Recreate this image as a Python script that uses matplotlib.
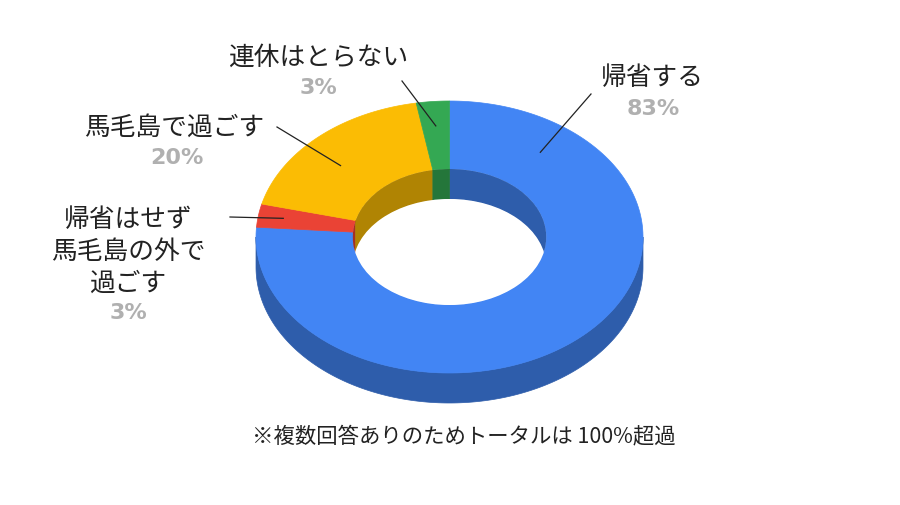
import numpy as np
import matplotlib
matplotlib.use("Agg")
import matplotlib.pyplot as plt
from matplotlib.patches import Polygon, Ellipse

plt.rcParams['font.family'] = ['Noto Sans CJK JP', 'DejaVu Sans']

# data
labels = ['帰省する', '帰省はせず\n馬毛島の外で\n過ごす', '馬毛島で過ごす', '連休はとらない']
values = [83, 3, 20, 3]
colors = ['#4285F4', '#EA4335', '#FBBC04', '#34A853']
note = '※複数回答ありのためトータルは 100%超過'

# layout (pixels)
cx, cy, rx, ry, depth, hole = 449.5, 238, 193.5, 136, 30, 0.5
name_pos = [(652, 78), (128, 252), (174, 128), (318, 58)]
pct_pos = [(653, 109), (128, 313), (177, 158), (318, 88)]
line_end = [(591, 95), (230, 218), (277, 128), (402, 82)]
anchor_angle = [53, None, 137, None]
anchor_r = [0.78, 0.87, 0.77, 0.82]


def dark(c, f=0.7):
    r, g, b = matplotlib.colors.to_rgb(c)
    return (r * f, g * f, b * f)


def arc(a1, a2, sx, sy, dy=0, n=200):
    t = np.radians(np.linspace(a1, a2, n))
    return np.column_stack([cx + sx * np.cos(t), cy - sy * np.sin(t) + dy])


def clip(lo, hi, wlo, whi):
    out = []
    for k in (-720, -360, 0, 360):
        a, b = max(lo, wlo + k), min(hi, whi + k)
        if b > a:
            out.append((a, b))
    return out


fig = plt.figure(figsize=(9, 5.06), dpi=100)
ax = fig.add_axes([0, 0, 1, 1])
ax.set_xlim(0, 900)
ax.set_ylim(506, 0)
ax.axis('off')

total = sum(values)
spans = []
start = 90.0
for v in values:
    end = start - v / total * 360
    spans.append((end, start))
    start = end

irx, iry = rx * hole, ry * hole

# outer side wall (front half)
for (lo, hi), c in zip(spans, colors):
    for a, b in clip(lo, hi, -180, 0):
        top = arc(a, b, rx, ry)
        bot = arc(b, a, rx, ry, depth)
        ax.add_patch(Polygon(np.vstack([top, bot]), fc=dark(c), ec=dark(c), lw=0.5))

# top face
for (lo, hi), c in zip(spans, colors):
    pts = np.vstack([arc(lo, hi, rx, ry), arc(hi, lo, irx, iry)])
    ax.add_patch(Polygon(pts, fc=c, ec=c, lw=0.5))

# inner wall (far half) and hole
hole_clip = Ellipse((cx, cy), 2 * irx, 2 * iry, transform=ax.transData)
for (lo, hi), c in zip(spans, colors):
    for a, b in clip(lo, hi, 0, 180):
        top = arc(a, b, irx, iry)
        bot = arc(b, a, irx, iry, depth)
        p = Polygon(np.vstack([top, bot]), fc=dark(c), ec=dark(c), lw=0.5)
        ax.add_patch(p)
        p.set_clip_path(hole_clip)
w = Ellipse((cx, cy + depth), 2 * irx, 2 * iry, fc='white', ec='none')
ax.add_patch(w)
w.set_clip_path(hole_clip)

# labels and leader lines
for i, ((lo, hi), lab, v) in enumerate(zip(spans, labels, values)):
    ang = anchor_angle[i] if anchor_angle[i] is not None else (lo + hi) / 2
    t = np.radians(ang)
    ax0 = cx + anchor_r[i] * rx * np.cos(t)
    ay0 = cy - anchor_r[i] * ry * np.sin(t)
    ex, ey = line_end[i]
    ax.plot([ax0, ex], [ay0, ey], color='#222222', lw=0.9)
    ax.text(*name_pos[i], lab, fontsize=18.5, color='#222222', ha='center', va='center',
            linespacing=1.3)
    ax.text(*pct_pos[i], f'{v}%', fontsize=16, color='#b0b0b0', fontweight='bold',
            family='DejaVu Sans', ha='center', va='center')

ax.text(464, 436, note, fontsize=15.4, color='#222222', ha='center', va='center')

fig.savefig('out.png', dpi=100)
